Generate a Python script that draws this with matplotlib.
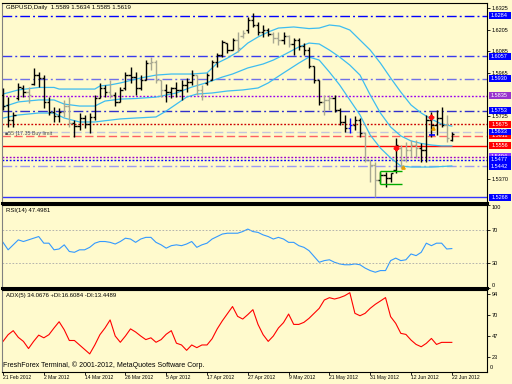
import matplotlib
matplotlib.use('Agg')
import matplotlib.pyplot as plt
from matplotlib.patches import Rectangle

plt.rcParams['font.family'] = ['Liberation Sans', 'DejaVu Sans']

# ---------------- data ----------------
symbol_title = "GBPUSD,Daily  1.5589 1.5634 1.5585 1.5619"
rsi_title = "RSI(14) 47.4981"
adx_title = "ADX(5) 34.0676 +DI:16.6084 -DI:13.4489"
footer = "FreshForex Terminal, \u00a9 2001-2012, MetaQuotes Software Corp."
order_note = "\u25a055 [17.35 Buy limit"

date_labels = ['21 Feb 2012', '2 Mar 2012', '14 Mar 2012', '26 Mar 2012', '5 Apr 2012',
               '17 Apr 2012', '27 Apr 2012', '9 May 2012', '21 May 2012', '31 May 2012',
               '12 Jun 2012', '22 Jun 2012']
date_bar = [0, 8, 16, 24, 32, 40, 48, 56, 64, 72, 80, 88]

opn = [1.5840, 1.5784, 1.5700, 1.5823, 1.5879, 1.5856, 1.5901, 1.5951, 1.5935, 1.5801,
       1.5745, 1.5722, 1.5745, 1.5778, 1.5683, 1.5666, 1.5711, 1.5677, 1.5717, 1.5823,
       1.5879, 1.5856, 1.5840, 1.5801, 1.5879, 1.5951, 1.5940, 1.5879, 1.5923, 1.6018,
       1.6024, 1.5923, 1.5868, 1.5856, 1.5879, 1.5868, 1.5896, 1.5912, 1.5951, 1.5868,
       1.5907, 1.5923, 1.6024, 1.6063, 1.6130, 1.6091, 1.6147, 1.6169, 1.6203, 1.6259,
       1.6231, 1.6192, 1.6203, 1.6181, 1.6158, 1.6147, 1.6169, 1.6125, 1.6147, 1.6114,
       1.6091, 1.6002, 1.5923, 1.5801, 1.5812, 1.5823, 1.5756, 1.5689, 1.5655, 1.5672,
       1.5700, 1.5627, 1.5476, 1.5448, 1.5364, 1.5393, 1.5376, 1.5420, 1.5543, 1.5476,
       1.5532, 1.5560, 1.5543, 1.5532, 1.5700, 1.5672, 1.5711, 1.5672, 1.5589]
high = [1.5879, 1.5828, 1.5745, 1.5907, 1.5896, 1.5884, 1.5991, 1.5968, 1.5951, 1.5828,
        1.5773, 1.5767, 1.5812, 1.5828, 1.5700, 1.5739, 1.5728, 1.5739, 1.5840, 1.5907,
        1.5896, 1.5923, 1.5856, 1.5884, 1.5968, 1.5996, 1.5968, 1.5951, 1.6035, 1.6052,
        1.6035, 1.5923, 1.5901, 1.5884, 1.5912, 1.5923, 1.5935, 1.5979, 1.5951, 1.5896,
        1.5963, 1.6035, 1.6074, 1.6147, 1.6130, 1.6158, 1.6192, 1.6203, 1.6276, 1.6298,
        1.6248, 1.6231, 1.6214, 1.6192, 1.6192, 1.6192, 1.6175, 1.6158, 1.6158, 1.6130,
        1.6108, 1.6002, 1.5923, 1.5840, 1.5840, 1.5840, 1.5767, 1.5728, 1.5711, 1.5722,
        1.5711, 1.5633, 1.5476, 1.5465, 1.5409, 1.5409, 1.5404, 1.5599, 1.5560, 1.5577,
        1.5588, 1.5588, 1.5571, 1.5728, 1.5745, 1.5756, 1.5773, 1.5728, 1.5634]
low = [1.5756, 1.5661, 1.5661, 1.5812, 1.5828, 1.5795, 1.5896, 1.5884, 1.5767, 1.5728,
       1.5689, 1.5689, 1.5717, 1.5661, 1.5605, 1.5644, 1.5655, 1.5627, 1.5700, 1.5823,
       1.5828, 1.5823, 1.5778, 1.5801, 1.5868, 1.5907, 1.5840, 1.5868, 1.5923, 1.5979,
       1.5907, 1.5828, 1.5801, 1.5823, 1.5828, 1.5812, 1.5856, 1.5896, 1.5840, 1.5812,
       1.5896, 1.5923, 1.5996, 1.6052, 1.6074, 1.6091, 1.6080, 1.6158, 1.6186, 1.6220,
       1.6175, 1.6164, 1.6169, 1.6130, 1.6119, 1.6125, 1.6108, 1.6063, 1.6091, 1.6063,
       1.5991, 1.5907, 1.5784, 1.5728, 1.5756, 1.5745, 1.5672, 1.5633, 1.5627, 1.5644,
       1.5605, 1.5465, 1.5353, 1.5268, 1.5348, 1.5325, 1.5353, 1.5404, 1.5432, 1.5465,
       1.5493, 1.5488, 1.5465, 1.5465, 1.5605, 1.5616, 1.5661, 1.5577, 1.5585]
cls = [1.5778, 1.5700, 1.5728, 1.5884, 1.5856, 1.5840, 1.5951, 1.5935, 1.5801, 1.5745,
       1.5722, 1.5745, 1.5778, 1.5683, 1.5666, 1.5711, 1.5677, 1.5717, 1.5823, 1.5879,
       1.5856, 1.5840, 1.5801, 1.5868, 1.5951, 1.5940, 1.5879, 1.5923, 1.6018, 1.6024,
       1.5923, 1.5868, 1.5856, 1.5879, 1.5868, 1.5896, 1.5912, 1.5951, 1.5868, 1.5834,
       1.5951, 1.6024, 1.6063, 1.6136, 1.6091, 1.6147, 1.6102, 1.6186, 1.6259, 1.6231,
       1.6192, 1.6203, 1.6181, 1.6158, 1.6147, 1.6169, 1.6125, 1.6147, 1.6114, 1.6091,
       1.6002, 1.5923, 1.5801, 1.5812, 1.5823, 1.5756, 1.5689, 1.5655, 1.5672, 1.5700,
       1.5627, 1.5476, 1.5448, 1.5364, 1.5393, 1.5376, 1.5404, 1.5560, 1.5476, 1.5532,
       1.5560, 1.5543, 1.5532, 1.5700, 1.5672, 1.5711, 1.5672, 1.5599, 1.5619]
# k = black bar, g = grey bar, b = blue bar
bar_kind = ("kkkkkgkkkk" "kkggkkkkkk" "kgkkkkkkkg" "ggkkkkkkgg" "kkkkkkggkk"
            "kkkggkgkkk" "kkkggkkkbk" "kgggkkkkgg" "ggkkkkkgk")

bb_up_x = [0, 3, 7, 10, 11, 18, 19, 21, 23, 27, 30, 33, 37, 40, 42, 44, 46, 48, 50, 52,
           54, 57, 60, 62, 64, 66, 68, 70, 72, 74, 76, 78, 80, 82, 84, 86, 88]
bb_up = [1.5845, 1.5868, 1.5882, 1.5882, 1.5873, 1.5873, 1.5890, 1.5896, 1.5907, 1.5935,
         1.5951, 1.5957, 1.5957, 1.5963, 1.6018, 1.6046, 1.6080, 1.6130, 1.6164, 1.6192,
         1.6214, 1.6220, 1.6211, 1.6214, 1.6231, 1.6225, 1.6203, 1.6147, 1.6091, 1.6018,
         1.5935, 1.5856, 1.5784, 1.5739, 1.5705, 1.5677, 1.5666]
bb_mid_x = [0, 3, 7, 10, 12, 15, 18, 20, 23, 26, 30, 34, 37, 40, 43, 45, 48, 51, 53, 55,
            58, 60, 62, 64, 66, 68, 70, 72, 74, 76, 78, 80, 82, 84, 86, 88]
bb_mid = [1.5773, 1.5801, 1.5812, 1.5812, 1.5789, 1.5778, 1.5778, 1.5806, 1.5817, 1.5820,
          1.5828, 1.5851, 1.5884, 1.5909, 1.5940, 1.5957, 1.5991, 1.6013, 1.6035, 1.6063,
          1.6108, 1.6130, 1.6125, 1.6091, 1.6052, 1.6007, 1.5951, 1.5840, 1.5739, 1.5661,
          1.5611, 1.5583, 1.5569, 1.5560, 1.5555, 1.5555]
bb_low_x = [0, 3, 7, 10, 12, 15, 18, 23, 26, 30, 32, 34, 36, 38, 41, 44, 47, 50, 52, 55,
            58, 60, 62, 64, 66, 68, 70, 72, 74, 76, 78, 80, 84, 88]
bb_low = [1.5711, 1.5728, 1.5739, 1.5739, 1.5711, 1.5689, 1.5689, 1.5706, 1.5711, 1.5717,
          1.5750, 1.5789, 1.5828, 1.5845, 1.5851, 1.5862, 1.5868, 1.5879, 1.5907, 1.5963,
          1.6018, 1.6052, 1.6035, 1.5968, 1.5896, 1.5812, 1.5728, 1.5616, 1.5543, 1.5488,
          1.5443, 1.5437, 1.5437, 1.5443]

rsi = [55, 46, 52, 58, 56, 58, 60, 62, 54, 54,
       46, 47, 52, 44, 43, 46, 46, 49, 54, 56,
       56, 55, 53, 56, 60, 59, 55, 59, 61, 61,
       55, 52, 48, 51, 52, 51, 53, 56, 49, 52,
       54, 59, 62, 65, 66, 66, 66, 68, 71, 68,
       67, 64, 62, 59, 61, 59, 55, 55, 51, 49,
       45, 38, 31, 33, 34, 31, 29, 28, 28, 29,
       28, 24, 21, 19, 21, 21, 33, 36, 33, 34,
       41, 39, 43, 54, 51, 54, 54, 47, 47.5]
adx = [41, 48.5, 53, 45.5, 41, 33, 41, 48, 45, 48.5,
       56, 63, 54, 42, 42, 37, 32, 27, 37, 48.5,
       56, 65, 47, 40, 47, 55, 51.5, 47, 43, 45,
       40, 43, 49, 53, 39, 37, 31, 37, 34, 37,
       37, 44, 55, 64, 72, 80, 69, 66, 71, 76.5,
       60, 48.5, 41, 47, 56, 62, 71.6, 60, 60, 62.3,
       66.8, 72.4, 78, 87.3, 89.9, 88.4, 89.9, 92.1, 95.5, 72.4,
       69.7, 72.4, 78, 82.5, 86.2, 90, 68.7, 61.2, 50, 48.8,
       42.5, 37.6, 35, 38.8, 44.3, 37.6, 39.9, 39.9, 39.9]

# horizontal levels: price, label text (later labels drawn over earlier ones)
level_price = [1.6284, 1.6057, 1.5930, 1.5835, 1.5753, 1.5675, 1.5611, 1.5633,
               1.5556, 1.5494, 1.5477, 1.5442, 1.5268]
level_text = ['1.6284', '1.6057', '1.5930', '1.5835', '1.5753', '1.5675', '1.5611', '1.5633',
              '1.5556', '1.5494', '1.5477', '1.5442', '1.5268']
price_ticks = [1.6325, 1.6205, 1.6085, 1.5965, 1.5725, 1.5370]
price_tick_text = ['1.6325', '1.6205', '1.6085', '1.5965', '1.5725', '1.5370']

# trade marks
red_mark_x = [77, 84]
red_mark_y = [1.5543, 1.5718]
orange_mark_x = [78.5, 84.3]
orange_mark_y = [1.5440, 1.5655]
green_box_x = [74, 78.2]
green_box_y = [1.5345, 1.5413]

# ---------------- styles ----------------
W, H = 512, 384
BG = '#FFFACD'
DD = (0, (7, 2.2, 1.4, 2.2))
DOT = (0, (1.3, 1.3))
DASH = (0, (6, 2.5))
level_style = [('#0000FF', DD, '#0000FF'), ('#3A3AEE', DD, '#0000FF'),
               ('#7070E8', DD, '#0000FF'), ('#9900EE', DOT, '#9933CC'),
               ('#3030CC', DD, '#0000FF'), ('#CC0000', DOT, '#FF0000'),
               ('#FF6060', DASH, '#FF0000'), ('#C4C4DC', DASH, '#0000FF'),
               ('#FF0000', '-', '#FF0000'), ('#9900CC', DOT, '#8833FF'),
               ('#0000FF', DOT, '#0000FF'), ('#9A9AF5', DD, '#0000FF'),
               ('#3333FF', '-', '#0000FF')]
BAR_COL = {'k': '#000000', 'g': '#A8A892', 'b': '#0000FF'}
BAND_COL = '#3DBDF0'

fig = plt.figure(figsize=(W / 100, H / 100), dpi=100)
fig.patch.set_facecolor(BG)


def rect(x0, y0, x1, y1):
    return [x0 / W, 1 - y1 / H, (x1 - x0) / W, (y1 - y0) / H]


ax = fig.add_axes(rect(2, 3, 487, 203))
ax_rsi = fig.add_axes(rect(2, 205, 487, 288))
ax_adx = fig.add_axes(rect(2, 290, 487, 372))

for a in (ax, ax_rsi, ax_adx):
    a.set_facecolor(BG)
    a.set_xlim(-0.2, 94.9)
    for s in a.spines.values():
        s.set_color('black')
        s.set_linewidth(0.8)
    a.spines['left'].set_color('#808080')
    a.tick_params(axis='x', bottom=False, labelbottom=False)
    a.yaxis.tick_right()
    a.tick_params(axis='y', right=True, left=False, length=2, width=0.6, pad=1.2,
                  labelsize=4, colors='black')
ax.spines['bottom'].set_linewidth(2.2)
ax_rsi.spines['bottom'].set_linewidth(2.2)

# ---------- main panel ----------
ax.set_ylim(1.5236, 1.6354)
ax.set_yticks(price_ticks)
ax.set_yticklabels(price_tick_text)

for p, (c, ls, _) in zip(level_price, level_style):
    ax.axhline(p, color=c, ls=ls, lw=1.0, zorder=1)

ax.plot(bb_up_x, bb_up, color=BAND_COL, lw=0.9, zorder=2)
ax.plot(bb_mid_x, bb_mid, color=BAND_COL, lw=0.9, zorder=2)
ax.plot(bb_low_x, bb_low, color=BAND_COL, lw=0.9, zorder=2)

for i in range(len(opn)):
    c = BAR_COL[bar_kind[i]]
    ax.vlines(i, low[i], high[i], color=c, lw=1.0, zorder=3)
    ax.hlines(opn[i], i - 0.45, i, color=c, lw=1.0, zorder=3)
    ax.hlines(cls[i], i, i + 0.45, color=c, lw=1.0, zorder=3)

gx0, gx1 = green_box_x
gy0, gy1 = green_box_y
ax.hlines([gy0, gy1], gx0, gx1, color='#00AA00', lw=1.0, zorder=4)
ax.vlines(gx0, gy0, gy1, color='#00AA00', lw=1.0, zorder=4)
ax.plot(red_mark_x, red_mark_y, ls='none', marker='P', ms=3.2, color='#FF1010', zorder=5)
ax.plot(orange_mark_x, orange_mark_y, ls='none', marker='^', ms=2.4, color='#E8A000', zorder=5)
ax.hlines(1.5616, 83.6, 84.8, color='#0000FF', lw=1.2, zorder=5)

ax.text(0.008, 0.978, symbol_title, transform=ax.transAxes, fontsize=4.4, va='center', ha='left')
ax.text(0.3, 1.5626, order_note, fontsize=3.8, va='center', ha='left', color='#505050', zorder=6)

# right-side level boxes (each later box covers the earlier one's text)
for k, (p, t, (_, _, bc)) in enumerate(zip(level_price, level_text, level_style)):
    disp = ax.transData.transform((0, p))
    fy = fig.transFigure.inverted().transform(disp)[1]
    fig.add_artist(Rectangle((488.5 / W, fy - 3.4 / H), 22 / W, 6.8 / H,
                             transform=fig.transFigure, facecolor=bc, edgecolor='none',
                             zorder=10 + 2 * k))
    fig.text(499.5 / W, fy, t, ha='center', va='center', color='white', fontsize=4,
             zorder=11 + 2 * k)

# ---------- RSI ----------
ax_rsi.set_ylim(0, 100)
ax_rsi.plot(range(len(rsi)), rsi, color='#3399FF', lw=0.8)
for lv in (70, 30):
    ax_rsi.axhline(lv, color='#A8A8A8', ls=(0, (2, 2)), lw=0.6)
ax_rsi.set_yticks([100, 70, 30, 0])
ax_rsi.set_yticklabels(['100', '70', '30', '0'])
lbls = ax_rsi.get_yticklabels()
lbls[0].set_va('top')
lbls[3].set_va('bottom')
ax_rsi.text(0.008, 0.93, rsi_title, transform=ax_rsi.transAxes, fontsize=4.3, va='center')

# ---------- ADX ----------
ax_adx.set_ylim(6.75, 98.5)
ax_adx.plot(range(len(adx)), adx, color='#FF0000', lw=0.8)
ax_adx.set_yticks([94, 70.5, 47, 23.5])
ax_adx.set_yticklabels(['94', '70', '47', '23'])
ax_adx.text(1.006, 0.05, '0', transform=ax_adx.transAxes, fontsize=4, va='center', ha='left')
ax_adx.text(0.008, 0.93, adx_title, transform=ax_adx.transAxes, fontsize=4.3, va='center')
ax_adx.text(0.003, 0.08, footer, transform=ax_adx.transAxes, fontsize=5.0, va='center')

ax_adx.set_xticks(date_bar)
ax_adx.set_xticklabels(date_labels)
ax_adx.tick_params(axis='x', bottom=True, labelbottom=True, length=2, width=0.6,
                   pad=0.5, labelsize=3.6, direction='out')
for t in ax_adx.get_xticklabels():
    t.set_ha('left')

fig.savefig('out.png', dpi=100, facecolor=BG)
